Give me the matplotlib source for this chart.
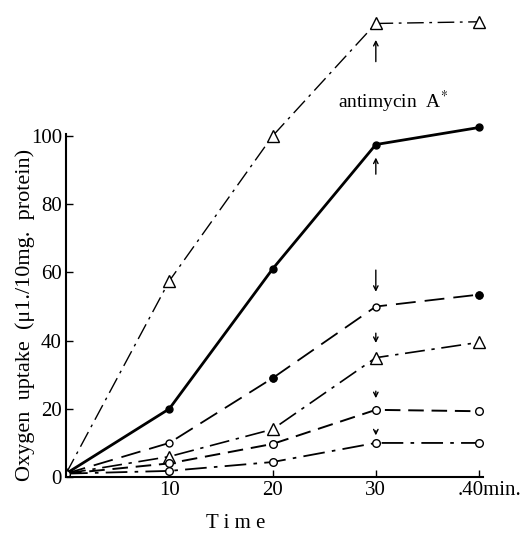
import matplotlib.pyplot as plt
from matplotlib.transforms import ScaledTranslation

plt.rcParams['font.family'] = 'Liberation Serif'
plt.rcParams['mathtext.fontset'] = 'stix'

# Data (time in min, oxygen uptake in ul / 10 mg protein)
time = [0, 10, 20, 30, 40]
uptake_a = [1, 57.5, 100, 133, 133.5]   # triangles, top
uptake_b = [1, 20, 61, 97.5, 102.5]     # filled circles, solid
uptake_c = [1, 10, 29, 50, 53.5]        # circles, long dash
uptake_d = [1, 6, 14, 35, 39.5]         # triangles, middle
uptake_e = [1, 4, 9.7, 19.7, 19.3]      # open circles, dashed
uptake_f = [1, 1.8, 4.4, 10, 10]        # open circles, bottom

x_ticks = [10, 20, 30, 40]
x_labels = ["10", "20", "30", ".40min."]
y_ticks = [0, 20, 40, 60, 80, 100]

# antimycin A addition arrows at 30 min: (start, end)
arrows = [(121, 129), (88, 94.5), (61.5, 53.5), (43, 38.5), (26, 22.3), (14.4, 11.4)]

fig = plt.figure(figsize=(5.24, 5.36), dpi=100)
ax = fig.add_axes([0.126, 0.110, 0.808, 0.878])

dashdot = (0, (12, 4, 2, 4))
ax.plot(time, uptake_a, color='black', lw=1.0, linestyle=dashdot,
        marker='^', ms=9, mfc='white', mec='black', mew=1.0)
ax.plot(time, uptake_b, color='black', lw=2.0, linestyle='-',
        marker='o', ms=5, mfc='black', mec='black')
ax.plot(time, uptake_c, color='black', lw=1.3, linestyle=(0, (11, 5)),
        marker='o', ms=5, mfc='white', mec='black', mew=1.0)
ax.plot(time[2::2], uptake_c[2::2], 'o', color='black', ms=5)
ax.plot(time, uptake_d, color='black', lw=1.2, linestyle=dashdot,
        marker='^', ms=9, mfc='white', mec='black', mew=1.0)
ax.plot(time, uptake_e, color='black', lw=1.4, linestyle=(0, (8, 4)),
        marker='o', ms=5.5, mfc='white', mec='black', mew=1.0)
ax.plot(time, uptake_f, color='black', lw=1.3, linestyle=dashdot,
        marker='o', ms=5.5, mfc='white', mec='black', mew=1.0)

for y0, y1 in arrows:
    ax.annotate('', xy=(30, y1), xytext=(30, y0),
                arrowprops=dict(arrowstyle='->', lw=1.0, color='black',
                                mutation_scale=8))

ax.text(31.7, 110, r'antimycin  A$^{*}$', fontsize=14, ha='center', va='center')

ax.set_xlim(0, 41)
ax.set_ylim(0, 138)
ax.spines['top'].set_visible(False)
ax.spines['right'].set_visible(False)
ax.spines['left'].set_bounds(0, 100.5)
ax.spines['bottom'].set_bounds(0, 40.4)
ax.spines['left'].set_linewidth(1.5)
ax.spines['bottom'].set_linewidth(1.5)

ax.set_xticks(x_ticks)
ax.set_xticklabels(x_labels, fontsize=15)
ax.set_yticks(y_ticks)
ax.set_yticklabels([str(v) for v in y_ticks], fontsize=15)
ax.tick_params(direction='in', length=5, width=1.0, pad=3)

last = ax.get_xticklabels()[-1]
last.set_horizontalalignment('left')
last.set_transform(last.get_transform() + ScaledTranslation(-21/100, 0, fig.dpi_scale_trans))

ax.set_ylabel('Oxygen  uptake  (μ1./10mg.  protein)', fontsize=16)
ax.yaxis.set_label_coords(-0.073, 0.344)
ax.set_xlabel('T i m e', fontsize=15)
ax.xaxis.set_label_coords(0.40, -0.078)

fig.savefig('out.png', dpi=100)
